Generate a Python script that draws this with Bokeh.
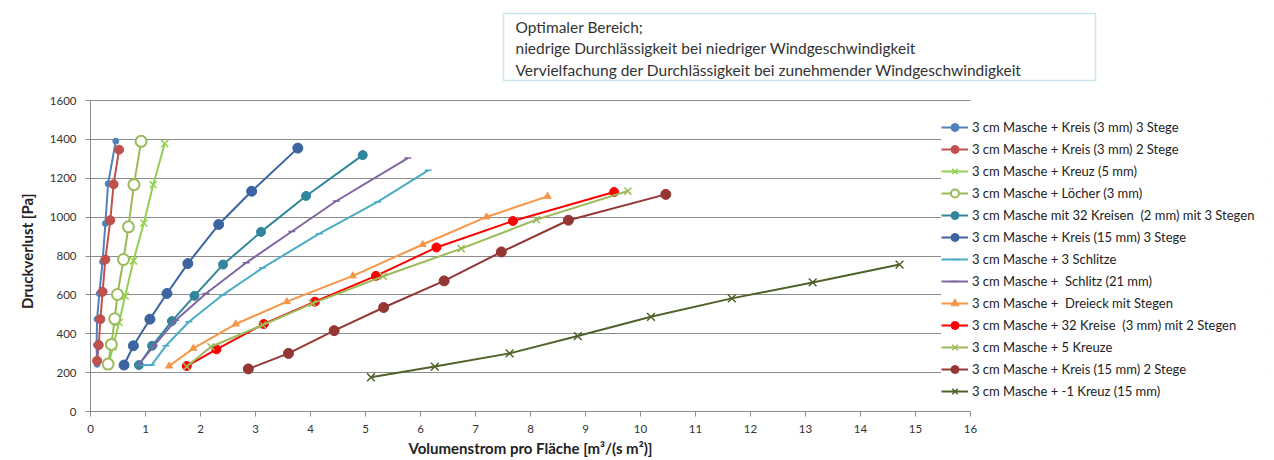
from bokeh.plotting import figure
from bokeh.models import Range1d, FixedTicker, Legend, LegendItem, Label, BoxAnnotation, Title
from bokeh.embed import file_html
from bokeh.resources import INLINE

FONT = "Lato"

names = [
    "3 cm Masche + Kreis (3 mm) 3 Stege",
    "3 cm Masche + Kreis (3 mm) 2 Stege",
    "3 cm Masche + Kreuz (5 mm)",
    "3 cm Masche + Löcher (3 mm)",
    "3 cm Masche mit 32 Kreisen  (2 mm) mit 3 Stegen",
    "3 cm Masche + Kreis (15 mm) 3 Stege",
    "3 cm Masche + 3 Schlitze",
    "3 cm Masche +  Schlitz (21 mm)",
    "3 cm Masche +  Dreieck mit Stegen",
    "3 cm Masche + 32 Kreise  (3 mm) mit 2 Stegen",
    "3 cm Masche + 5 Kreuze",
    "3 cm Masche + Kreis (15 mm) 2 Stege",
    "3 cm Masche + -1 Kreuz (15 mm)",
]

x_kreis3_3 = [0.12, 0.11, 0.12, 0.16, 0.22, 0.27, 0.32, 0.46]
y_kreis3_3 = [243, 342, 475, 607, 770, 967, 1172, 1391]

x_kreis3_2 = [0.12, 0.15, 0.18, 0.22, 0.27, 0.36, 0.42, 0.52]
y_kreis3_2 = [261, 342, 475, 616, 782, 984, 1169, 1347]

x_kreuz5 = [0.33, 0.41, 0.52, 0.63, 0.78, 0.97, 1.14, 1.35]
y_kreuz5 = [244, 333, 458, 594, 775, 970, 1167, 1378]

x_loecher = [0.32, 0.38, 0.44, 0.49, 0.60, 0.69, 0.79, 0.92]
y_loecher = [244, 345, 477, 602, 782, 950, 1167, 1390]

x_32kr2 = [0.88, 1.12, 1.48, 1.89, 2.41, 3.10, 3.92, 4.95]
y_32kr2 = [239, 338, 465, 595, 756, 924, 1109, 1319]

x_kreis15_3 = [0.61, 0.78, 1.08, 1.39, 1.77, 2.33, 2.93, 3.77]
y_kreis15_3 = [239, 338, 475, 607, 761, 962, 1133, 1355]

x_3schl = [0.90, 1.11, 1.37, 1.79, 2.40, 3.13, 4.16, 5.22, 6.14]
y_3schl = [239, 239, 338, 462, 599, 739, 915, 1078, 1241]

x_schl21 = [0.88, 1.16, 1.55, 2.10, 2.83, 3.66, 4.47, 5.77]
y_schl21 = [242, 340, 470, 607, 765, 926, 1083, 1304]

x_dreieck = [1.43, 1.87, 2.64, 3.57, 4.77, 6.04, 7.20, 8.31]
y_dreieck = [234, 325, 450, 565, 698, 859, 1001, 1107]

x_32kr3 = [1.75, 2.29, 3.15, 4.08, 5.19, 6.29, 7.68, 9.52]
y_32kr3 = [234, 320, 450, 565, 698, 844, 980, 1129]

x_5kreuze = [1.75, 2.19, 3.13, 4.04, 5.32, 6.74, 8.11, 9.77]
y_5kreuze = [231, 333, 445, 556, 696, 838, 987, 1134]

x_kreis15_2 = [2.87, 3.60, 4.43, 5.33, 6.43, 7.47, 8.69, 10.46]
y_kreis15_2 = [219, 299, 416, 535, 672, 821, 984, 1117]

x_1kreuz = [5.10, 6.26, 7.62, 8.86, 10.19, 11.66, 13.13, 14.71]
y_1kreuz = [176, 231, 299, 388, 487, 582, 664, 756]

x_ticks = list(range(0, 17))
y_ticks = list(range(0, 1601, 200))

x_title = "Volumenstrom pro Fläche [m³/(s m²)]"
y_title = "Druckverlust [Pa]"
note_lines = ["Optimaler Bereich;",
              "niedrige Durchlässigkeit bei niedriger Windgeschwindigkeit",
              "Vervielfachung der Durchlässigkeit bei zunehmender  Windgeschwindigkeit"]

series = [
    (x_kreis3_3, y_kreis3_3, "#4F81BD", "circle", 6, "#4F81BD"),
    (x_kreis3_2, y_kreis3_2, "#C0504D", "circle", 9, "#C0504D"),
    (x_kreuz5, y_kreuz5, "#92D050", "x", 10, None),
    (x_loecher, y_loecher, "#9BBB59", "circle", 11, "white"),
    (x_32kr2, y_32kr2, "#31859C", "circle", 9, "#31859C"),
    (x_kreis15_3, y_kreis15_3, "#3B64A0", "circle", 10, "#3B64A0"),
    (x_3schl, y_3schl, "#4BACC6", "dash", 7, None),
    (x_schl21, y_schl21, "#8064A2", "dash", 7, None),
    (x_dreieck, y_dreieck, "#F79646", "triangle", 7, "#F79646"),
    (x_32kr3, y_32kr3, "#FF0000", "circle", 9, "#FF0000"),
    (x_5kreuze, y_5kreuze, "#9BBB59", "x", 10, None),
    (x_kreis15_2, y_kreis15_2, "#943634", "circle", 10, "#943634"),
    (x_1kreuz, y_1kreuz, "#4F6228", "x", 11, None),
]

# layout (pixels)
W, H = 1272, 458
L, R, T, B = 90, 2, 4, 47
PX_X = 55.0          # pixels per x unit
PX_Y = 311.0 / 1600  # pixels per Pa
frame_w = W - L - R
frame_h = H - T - B
x_max = frame_w / PX_X
y_max = frame_h / PX_Y

p = figure(width=W, height=H, output_backend="svg", toolbar_location=None,
           x_range=Range1d(0, x_max), y_range=Range1d(0, y_max),
           min_border_left=L, min_border_right=R, min_border_top=T, min_border_bottom=B)
p.outline_line_color = None
p.background_fill_color = "white"
p.border_fill_color = "white"

p.xgrid.grid_line_color = None
p.ygrid.grid_line_color = "#8C8C8C"
p.ygrid.grid_line_width = 1
p.ygrid.ticker = FixedTicker(ticks=y_ticks)

# hide grid beyond x = 16
p.add_layout(BoxAnnotation(left=x_ticks[-1], fill_color="white", fill_alpha=1.0,
                           line_alpha=0, level="underlay"))

p.xaxis.ticker = FixedTicker(ticks=x_ticks)
p.yaxis.ticker = FixedTicker(ticks=y_ticks)
p.xaxis.bounds = (x_ticks[0], x_ticks[-1])
p.yaxis.bounds = (y_ticks[0], y_ticks[-1])
for ax in (p.xaxis, p.yaxis):
    ax.axis_line_color = "#8C8C8C"
    ax.major_tick_line_color = "#8C8C8C"
    ax.minor_tick_line_color = None
    ax.major_label_text_font = FONT
    ax.major_label_text_font_size = "11.5px"
    ax.major_label_text_color = "#333333"
p.xaxis.major_tick_in = 0
p.xaxis.major_tick_out = 5
p.yaxis.major_tick_in = 0
p.yaxis.major_tick_out = 5
p.xaxis.major_label_standoff = 8
p.yaxis.major_label_standoff = 9

# axis titles as side-panel titles, centred on the bounded axes
x_title_w = 244
y_title_w = 118
x_mid_px = PX_X * (x_ticks[0] + x_ticks[-1]) / 2
y_mid_px = PX_Y * (y_ticks[0] + y_ticks[-1]) / 2 + 6
p.add_layout(Title(text=x_title, align="left", offset=x_mid_px - x_title_w / 2, standoff=2,
                   text_font=FONT, text_font_size="15px", text_font_style="bold",
                   text_color="#222222"), "below")
p.add_layout(Title(text=y_title, align="left", offset=y_mid_px - y_title_w / 2, standoff=22,
                   text_font=FONT, text_font_size="15px", text_font_style="bold",
                   text_color="#222222"), "left")

items = []
for (xs, ys, col, mk, sz, fill), name in zip(series, names):
    r1 = p.line(xs, ys, line_color=col, line_width=2)
    if fill is None:
        r2 = p.scatter(xs, ys, marker=mk, size=sz, line_color=col, line_width=1.5, fill_color=col)
    else:
        r2 = p.scatter(xs, ys, marker=mk, size=sz, line_color=col,
                       line_width=2 if fill == "white" else 1, fill_color=fill)
    items.append(LegendItem(label=name, renderers=[r1, r2]))

legend = Legend(items=items, location=(851, 10), orientation="vertical",
                label_text_font=FONT, label_text_font_size="13px", label_text_color="#222222",
                glyph_width=27, glyph_height=20, label_height=20, spacing=2,
                padding=4, margin=0, label_standoff=4,
                border_line_color=None, background_fill_color="white", background_fill_alpha=1.0)
p.add_layout(legend, "center")

box = BoxAnnotation(left=503, right=1095, top=13, bottom=80,
                    left_units="canvas", right_units="canvas", top_units="canvas", bottom_units="canvas",
                    fill_color="white", fill_alpha=1.0, line_color="#4BACC6", line_width=1.5,
                    level="overlay")
p.add_layout(box)

for i, t in enumerate(note_lines):
    p.add_layout(Label(x=515, y=26 + 21.5 * i, x_units="canvas", y_units="canvas", text=t,
                       text_font=FONT, text_font_size="15.5px", text_color="#333333",
                       text_baseline="middle", level="overlay"))

open("out.html", "w").write(file_html(p, INLINE))
